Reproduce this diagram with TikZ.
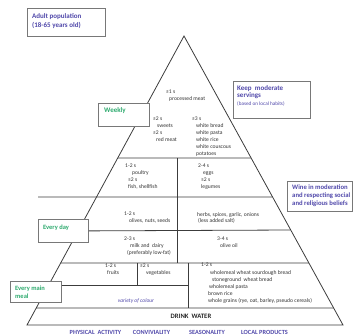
\documentclass[tikz,border=0pt]{standalone}
\usepackage{fontspec}
\setmainfont{Carlito}
\definecolor{notepurple}{RGB}{80,72,170}
\definecolor{notegreen}{RGB}{45,170,110}
\definecolor{edgegray}{RGB}{60,60,60}
\definecolor{boxgray}{RGB}{120,120,120}

\begin{document}
\begin{tikzpicture}[x=1pt, y=-1pt,
    edge/.style={edgegray, line width=0.8pt},
    notebox/.style={draw=boxgray, fill=white, line width=0.8pt, anchor=north west, inner sep=0pt},
    notetext/.style={anchor=north west, inner sep=0pt, align=left, font=\fontsize{7}{9}\selectfont\bfseries},
    food/.style={anchor=north west, inner sep=0pt, align=left, font=\fontsize{5.6}{6.9}\selectfont, text=black!80},
    footer/.style={font=\fontsize{6.3}{7}\selectfont\bfseries, text=notepurple}]

    \useasboundingbox (0,0) rectangle (353,336);

    % Pyramid outline
    \coordinate (apex) at (184,36);
    \coordinate (bl) at (27,325);
    \coordinate (br) at (343,325);
    \draw[edge] (bl) -- (apex) -- (br) -- cycle;

    % Band levels on the sides
    \foreach \lvl/\yy in {a/158, b/197, c/230, d/263, e/308} {
        \coordinate (l\lvl) at (intersection of apex--bl and 0,\yy--1,\yy);
        \coordinate (r\lvl) at (intersection of apex--br and 0,\yy--1,\yy);
    }
    \coordinate (bstart) at (38,197);

    % Notes
    \node[notebox, minimum width=78, minimum height=28] (adult) at (27,8) {};
    \node[notetext, text=notepurple] (adulttxt) at (32,13) {Adult population\\(18-65 years old)};

    \node[notebox, minimum width=51, minimum height=23] (weekly) at (98,103) {};
    \node[notetext, text=notegreen] (weeklytxt) at (104,107.3) {Weekly};

    \node[notebox, minimum width=77, minimum height=37] (moderate) at (233,81) {};
    \node[notetext, text=notepurple, font=\fontsize{7}{7.5}\selectfont\bfseries] (moderatetxt) at (237,85)
        {Keep\ \ moderate\\servings\\{\fontsize{5.2}{6.3}\selectfont\mdseries (based on local habits)}};

    \node[notebox, minimum width=65, minimum height=30] (wine) at (287,181) {};
    \node[notetext, text=notepurple, font=\fontsize{6.7}{8}\selectfont\bfseries] (winetxt) at (292,185)
        {Wine in moderation\\and respecting social\\and religious beliefs};

    \node[notebox, minimum width=50, minimum height=23] (everyday) at (38,219) {};
    \node[notetext, text=notegreen, font=\fontsize{6.5}{8}\selectfont\bfseries] (everydaytxt) at (43,224.4) {Every day};

    \node[notebox, minimum width=51, minimum height=21] (mainmeal) at (10,281) {};
    \node[notetext, text=notegreen, font=\fontsize{6.5}{8}\selectfont\bfseries] (mainmealtxt) at (15,285.4) {Every main\\meal};

    % Bands
    \draw[edge] (la) -- (ra);
    \draw[edge] (bstart) -- (rb);
    \draw[edge] (everyday.east) -- (rc);
    \draw[edge] (ld) -- (rd);
    \draw[edge] (le) -- (re);
    \draw[edge] (mainmeal.east |- 0,285) -- (188,285);
    \draw[edge] (177,158) -- (177,263);
    \draw[edge] (137,263) -- (137,285);
    \draw[edge] (188,263) -- (188,308);

    % Weekly
    \node[food] (procmeat) at (166,90) {≤1 s\\\hspace*{3pt}processed meat};
    \node[food] (sweets) at (153,117) {≤2 s\\\hspace*{4pt}sweets\\≤2 s\\\hspace*{3pt}red meat};
    \node[food] (white) at (192,117) {≤3 s\\\hspace*{4pt}white bread\\\hspace*{4pt}white pasta\\\hspace*{4pt}white rice\\\hspace*{4pt}white couscous\\\hspace*{4pt}potatoes};
    \node[food] (poultry) at (125,164) {1-2 s\\\hspace*{7pt}poultry\\\hspace*{3pt}≥2 s\\\hspace*{3pt}fish, shellfish};
    \node[food] (eggs) at (198,164) {2-4 s\\\hspace*{5pt}eggs\\\hspace*{3pt}≥2 s\\\hspace*{3pt}legumes};

    % Every day
    \node[food] (olives) at (124,212) {1-2 s\\\hspace*{5pt}olives, nuts, seeds};
    \node[food] (herbs) at (197,212) {herbs, spices, garlic, onions\\\hspace*{1pt}(less added salt)};
    \node[food] (milk) at (124,237) {2-3 s\\\hspace*{6pt}milk and\ \ dairy\\\hspace*{3pt}(preferably low-fat)};
    \node[food] (oil) at (217,237) {3-4 s\\\hspace*{3pt}olive oil};

    % Every main meal
    \node[food] (fruits) at (105,264) {1-2 s\\\hspace*{2pt}fruits};
    \node[food] (veg) at (140,264) {≤2 s\\\hspace*{6pt}vegetables};
    \node[food, font=\fontsize{5.6}{7.2}\selectfont] (grains) at (201,263) {1-2 s\\\hspace*{9pt}wholemeal wheat sourdough bread\\\hspace*{11pt}stoneground\ \ wheat bread\\\hspace*{8pt}wholemeal pasta\\\hspace*{7pt}brown rice\\\hspace*{7pt}whole grains (rye, oat, barley, pseudo cereals)};
    \node[font=\fontsize{5.5}{6}\selectfont\itshape, text=notepurple] (variety) at (136,301) {variety of colour};

    % Base
    \node[font=\fontsize{6.7}{7}\selectfont\bfseries, text=black!85] (water) at (191,316) {DRINK\ \ WATER};
    \node[footer] (activity) at (95.5,332) {PHYSICAL\ \ ACTIVITY};
    \node[footer] (convivial) at (151.5,332) {CONVIVIALITY};
    \node[footer] (season) at (207,332) {SEASONALITY};
    \node[footer] (local) at (264.5,332) {LOCAL PRODUCTS};
\end{tikzpicture}
\end{document}
